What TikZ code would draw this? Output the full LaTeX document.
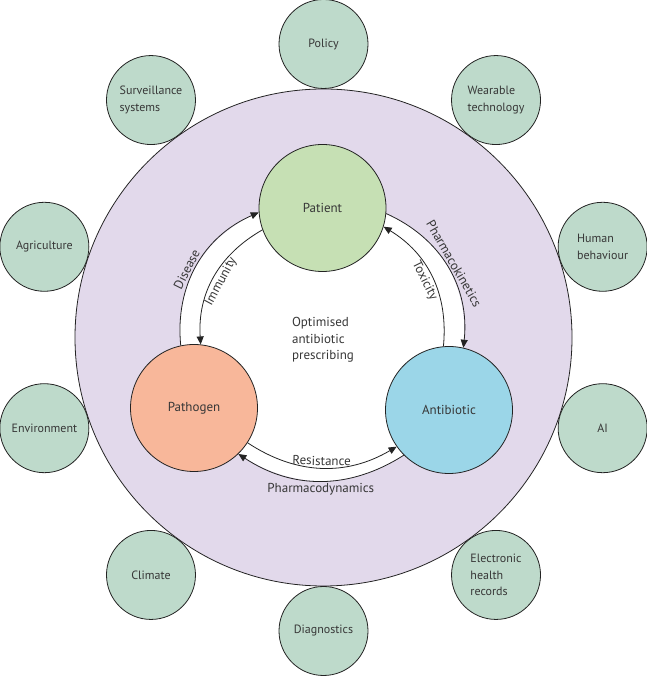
\documentclass[tikz,border=0pt]{standalone}
\usepackage{fontspec}
\setmainfont{PT Sans}
\usetikzlibrary{arrows.meta,calc,backgrounds}
\definecolor{ringfill}{RGB}{226,217,235}
\definecolor{outerfill}{RGB}{190,218,203}
\definecolor{patfill}{RGB}{198,224,180}
\definecolor{pathfill}{RGB}{248,183,154}
\definecolor{abfill}{RGB}{155,214,232}
\definecolor{txt}{RGB}{55,55,55}
\definecolor{edge}{RGB}{35,35,35}
\begin{document}
\begin{tikzpicture}[x=1pt,y=1pt,
  every node/.style={font=\fontsize{13}{16.7}\selectfont, text=txt},
  outerc/.style={circle, draw=edge, line width=0.8pt, fill=outerfill, minimum size=89pt, inner sep=0pt, align=left, font=\fontsize{12}{16.7}\selectfont},
  innerc/.style={circle, draw=edge, line width=0.8pt, minimum size=127pt, inner sep=0pt},
  conn/.style={draw=edge, line width=0.8pt, -{Triangle[length=8pt,width=7pt]}},
  lab/.style={sloped, inner sep=2pt, font=\fontsize{13}{15}\selectfont}]
\useasboundingbox (0,0) rectangle (646,676);
\coordinate (c) at (323.5,338.5);
% inner circles
\node[innerc, fill=patfill] (pat) at (322.5,468) {Patient};
\node[innerc, fill=pathfill] (path) at (194,268) {Pathogen};
\node[innerc, fill=abfill] (ab) at (449,266) {Antibiotic};
\begin{pgfonlayer}{background}
\node[circle, draw=edge, line width=0.8pt, fill=ringfill, minimum size=497pt, inner sep=0pt] (ring) at (c) {};
\fill[white] (path.102.5) to[bend left=36] (pat.184) -- (pat.355) to[bend left=36] (ab.77.5) -- (ab.225.6) to[bend left=33] (path.314.4) -- cycle;
\end{pgfonlayer}
% outer circles
\node[outerc] (policy) at ($(c)+(90:293.5)$) {Policy};
\node[outerc] (wear) at ($(c)+(54:293.5)$) {Wearable\\technology};
\node[outerc] (human) at ($(c)+(18:293.5)$) {Human\\behaviour};
\node[outerc] (ai) at ($(c)+(-18:293.5)$) {AI};
\node[outerc] (ehr) at ($(c)+(-54:293.5)$) {Electronic\\health\\records};
\node[outerc] (diag) at ($(c)+(-90:293.5)$) {Diagnostics};
\node[outerc] (climate) at ($(c)+(-126:293.5)$) {Climate};
\node[outerc] (env) at ($(c)+(-162:293.5)$) {Environment};
\node[outerc] (agri) at ($(c)+(162:293.5)$) {Agriculture};
\node[outerc] (surv) at ($(c)+(126:293.5)$) {Surveillance\\systems};
% centre text
\node[align=left] (centre) at (323,336) {Optimised\\antibiotic\\prescribing};
% connectors
\draw[conn] (path.102.5) to[bend left=36] node[lab, above, pos=0.45] {Disease} (pat.184);
\draw[conn] (pat.200) to[bend right=32] node[lab, below, pos=0.5] {Immunity} (path.84.5);
\draw[conn] (pat.355) to[bend left=36] node[lab, above, pos=0.5] {Pharmacokinetics} (ab.77.5);
\draw[conn] (ab.95.4) to[bend right=32] node[lab, below, pos=0.5] {Toxicity} (pat.343);
\draw[conn] (path.327) to[bend right=32] node[lab, above, pos=0.5] {Resistance} (ab.215);
\draw[conn] (ab.225.6) to[bend left=33] node[lab, below, pos=0.5] {Pharmacodynamics} (path.314.4);
\end{tikzpicture}
\end{document}
